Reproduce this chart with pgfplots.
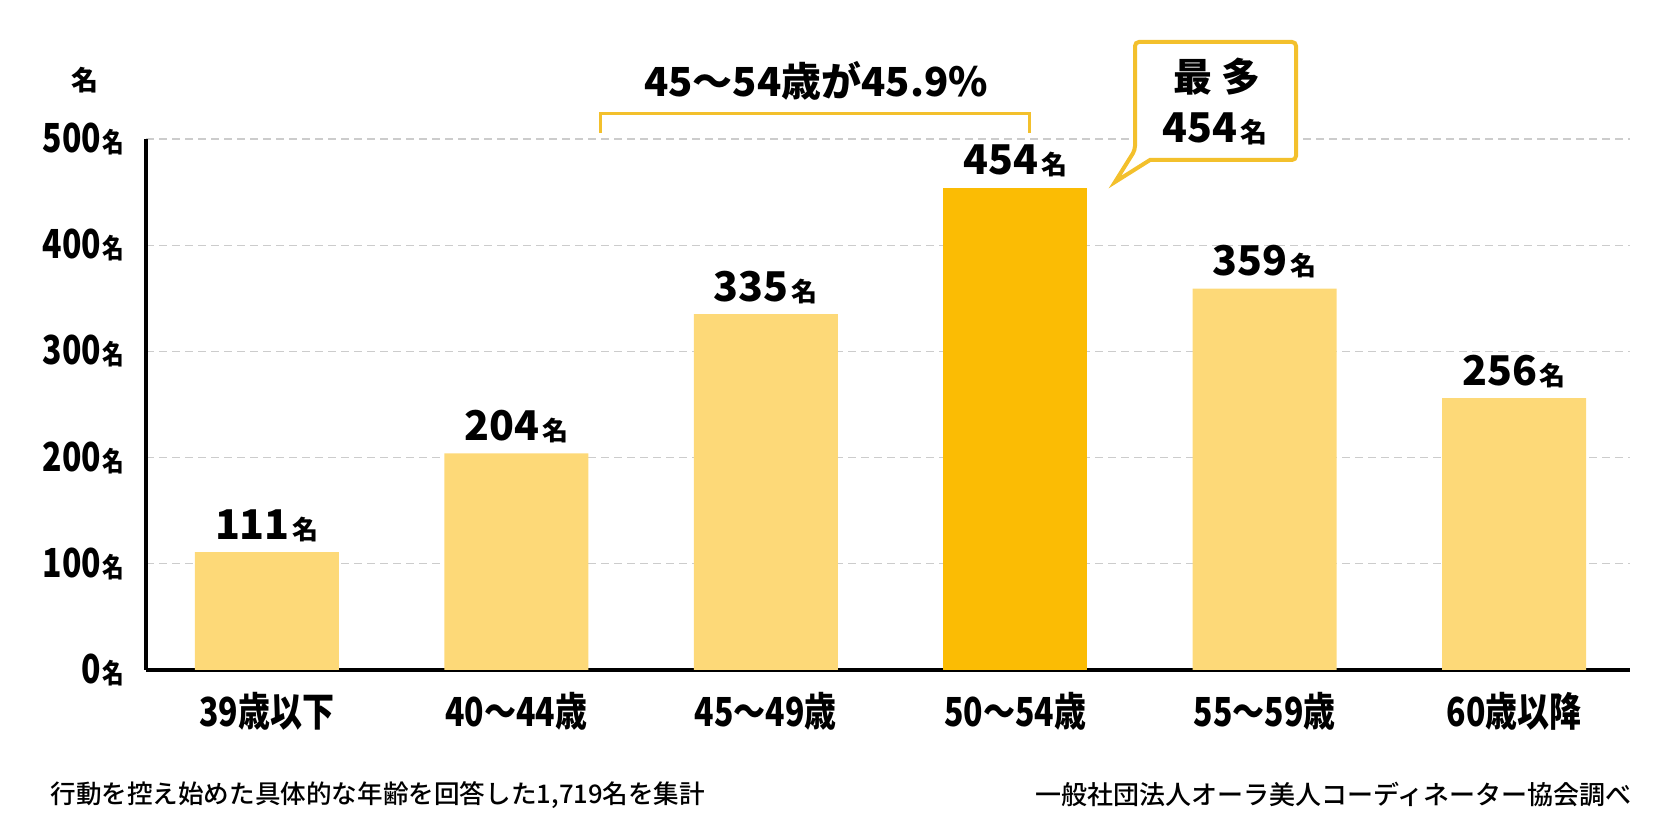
\documentclass[border=0pt]{standalone}
\usepackage{fontspec}
\setmainfont{Noto Sans CJK JP}
\newfontfamily\jpmed{Noto Sans CJK JP Medium}
\usepackage{graphicx}
\usepackage{pgfplots}
\pgfplotsset{compat=1.18}
\definecolor{barlight}{HTML}{FDD978}
\definecolor{bardark}{HTML}{FBBC04}
\definecolor{gold}{HTML}{F3C02C}
\definecolor{gridc}{HTML}{CCCCCC}
\newcommand{\vl}[1]{{\fontsize{20.5pt}{20.5pt}\selectfont\bfseries #1\hspace{1.5pt}\fontsize{13pt}{13pt}\selectfont 名}}
\newcommand{\yl}[1]{\scalebox{0.8}[1]{\fontsize{20pt}{20pt}\selectfont\bfseries #1\hspace{1pt}\fontsize{13.5pt}{13.5pt}\selectfont 名}}
\newcommand{\xl}[1]{\scalebox{0.8}[1]{\fontsize{20pt}{20pt}\selectfont\bfseries #1}}
\begin{document}
\begin{tikzpicture}[x=1pt,y=1pt]
\useasboundingbox (0,0) rectangle (836,419);
\begin{axis}[
  at={(73pt,84pt)}, anchor=south west,
  width=742pt, height=265.5pt, scale only axis,
  xmin=-0.485, xmax=5.465, ymin=0, ymax=500,
  axis x line=bottom, axis y line=left,
  axis line style={line width=2pt, -, black},
  xtick={0,1,2,3,4,5},
  xticklabels={\xl{39歳以下},\xl{40〜44歳},\xl{45〜49歳},\xl{50〜54歳},\xl{55〜59歳},\xl{60歳以降}},
  ytick={0,100,200,300,400,500},
  yticklabels={\yl{0},\yl{100},\yl{200},\yl{300},\yl{400},\yl{500}},
  major tick length=0pt,
  ymajorgrids, grid style={gridc, line width=0.6pt, dash pattern=on 4pt off 2.5pt},
  ybar, bar width=72pt, bar shift=0pt,
  clip=false,
  x tick label style={anchor=north, inner sep=0pt, yshift=-11pt},
  y tick label style={anchor=east, inner sep=0pt, xshift=-10.5pt},
  point meta=explicit symbolic,
  nodes near coords={\vl{\pgfplotspointmeta}},
  nodes near coords style={anchor=south, inner sep=0pt, yshift=5pt, black},
]
\addplot[fill=barlight, draw=none] coordinates {(0,111)[111] (1,204)[204] (2,335)[335] (4,359)[359] (5,256)[256]};
\addplot[fill=bardark, draw=none] coordinates {(3,454)[454]};
\end{axis}
% bracket
\draw[gold, line width=1.5pt] (300,352.5) -- (300,362) -- (514.5,362) -- (514.5,352.5);
\node[anchor=base, inner sep=0pt] at (408,370.5) {\fontsize{20pt}{20pt}\selectfont\bfseries 45〜54歳が45.9\%};
% callout
\draw[gold, line width=2pt, fill=white, rounded corners=2pt] (575,339) -- (648,339) -- (648,398) -- (567.5,398) -- (567.5,344) [sharp corners] -- (557.5,328) -- cycle;
\node[anchor=base, inner sep=0pt] at (608.5,373) {\fontsize{19.5pt}{19.5pt}\selectfont\bfseries 最\hspace{5pt}多};
\node[anchor=base, inner sep=0pt] at (607.5,347.5) {{\fontsize{20.5pt}{20.5pt}\selectfont\bfseries 454\hspace{1.5pt}\fontsize{13.5pt}{13.5pt}\selectfont 名}};
% y unit
\node[inner sep=0pt] at (42.5,379) {\fontsize{13.5pt}{13.5pt}\selectfont\bfseries 名};
% footnotes
\node[anchor=west, inner sep=0pt] at (25,21.5) {\jpmed\fontsize{12.8pt}{12.8pt}\selectfont 行動を控え始めた具体的な年齢を回答した1,719名を集計};
\node[anchor=east, inner sep=0pt] at (816,21.5) {\jpmed\fontsize{13pt}{13pt}\selectfont 一般社団法人オーラ美人コーディネーター協会調べ};
\end{tikzpicture}
\end{document}
